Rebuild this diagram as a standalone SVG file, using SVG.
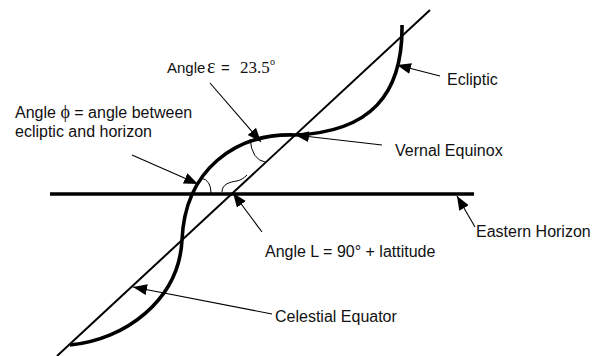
<svg xmlns="http://www.w3.org/2000/svg" width="595" height="356" viewBox="0 0 595 356">
<defs>
<marker id="ah" markerUnits="userSpaceOnUse" markerWidth="15" markerHeight="12" refX="14" refY="5.5" orient="auto">
<path d="M0,0 L14,5.5 L0,11 Z" fill="#000"/>
</marker>
<style>
.lbl{font-family:"Liberation Sans",Arial,sans-serif;font-size:16px;fill:#111}
.ser{font-family:"Liberation Serif","Times New Roman",serif}
.ptr{fill:none;stroke:#000;stroke-width:1.1;marker-end:url(#ah)}
.arc{fill:none;stroke:#000;stroke-width:1}
.thick{fill:none;stroke:#000;stroke-width:3.6;stroke-linecap:butt}
</style>
</defs>
<rect width="595" height="356" fill="#fff"/>
<g id="horizon"><path class="thick" d="M50,194 H474"/></g>
<g id="celestial-equator"><path d="M57,356 L430,10" fill="none" stroke="#000" stroke-width="2"/></g>
<g id="ecliptic"><path class="thick" d="M402,25 C403,95 370,132 295,135 C235,133 185,170 182,240 C179,300 125,340 70,345"/></g>
<g id="angle-arcs">
<path class="arc" d="M250,139 Q252,160 265,162"/>
<path class="arc" d="M201,178 Q211,180 211,193"/>
<path class="arc" d="M222,192 C222,184 230,182 237,181 C241,180 244,178 247,175"/>
</g>
<g id="connectors">
<path class="ptr" d="M440,76 L397,65"/>
<path class="ptr" d="M382,145 L295,135"/>
<path class="ptr" d="M210,83 L261,142"/>
<path class="ptr" d="M132,155 L198,184"/>
<path class="ptr" d="M262,232 L233,193"/>
<path class="ptr" d="M475,227 L457,196"/>
<path class="ptr" d="M272,314 L133,287"/>
</g>
<g id="label-epsilon"><text class="lbl" x="167" y="73" font-size="15" style="font-size:15px">Angle<tspan class="ser" x="207" font-size="20">ε</tspan><tspan x="221">=</tspan><tspan class="ser" x="240" font-size="17">23.5</tspan><tspan class="ser" x="270" dy="-8" font-size="10">o</tspan></text></g>
<g id="label-phi"><text class="lbl" x="15" y="118">Angle <tspan class="ser" font-size="18">ϕ</tspan> = angle between</text><text class="lbl" x="15" y="137">ecliptic and horizon</text></g>
<g id="label-ecliptic"><text class="lbl" x="447" y="85">Ecliptic</text></g>
<g id="label-vernal"><text class="lbl" x="395" y="156">Vernal Equinox</text></g>
<g id="label-L"><text class="lbl" x="265" y="257">Angle L = 90° + lattitude</text></g>
<g id="label-horizon"><text class="lbl" x="476" y="237">Eastern Horizon</text></g>
<g id="label-equator"><text class="lbl" x="275" y="322">Celestial Equator</text></g>
</svg>
